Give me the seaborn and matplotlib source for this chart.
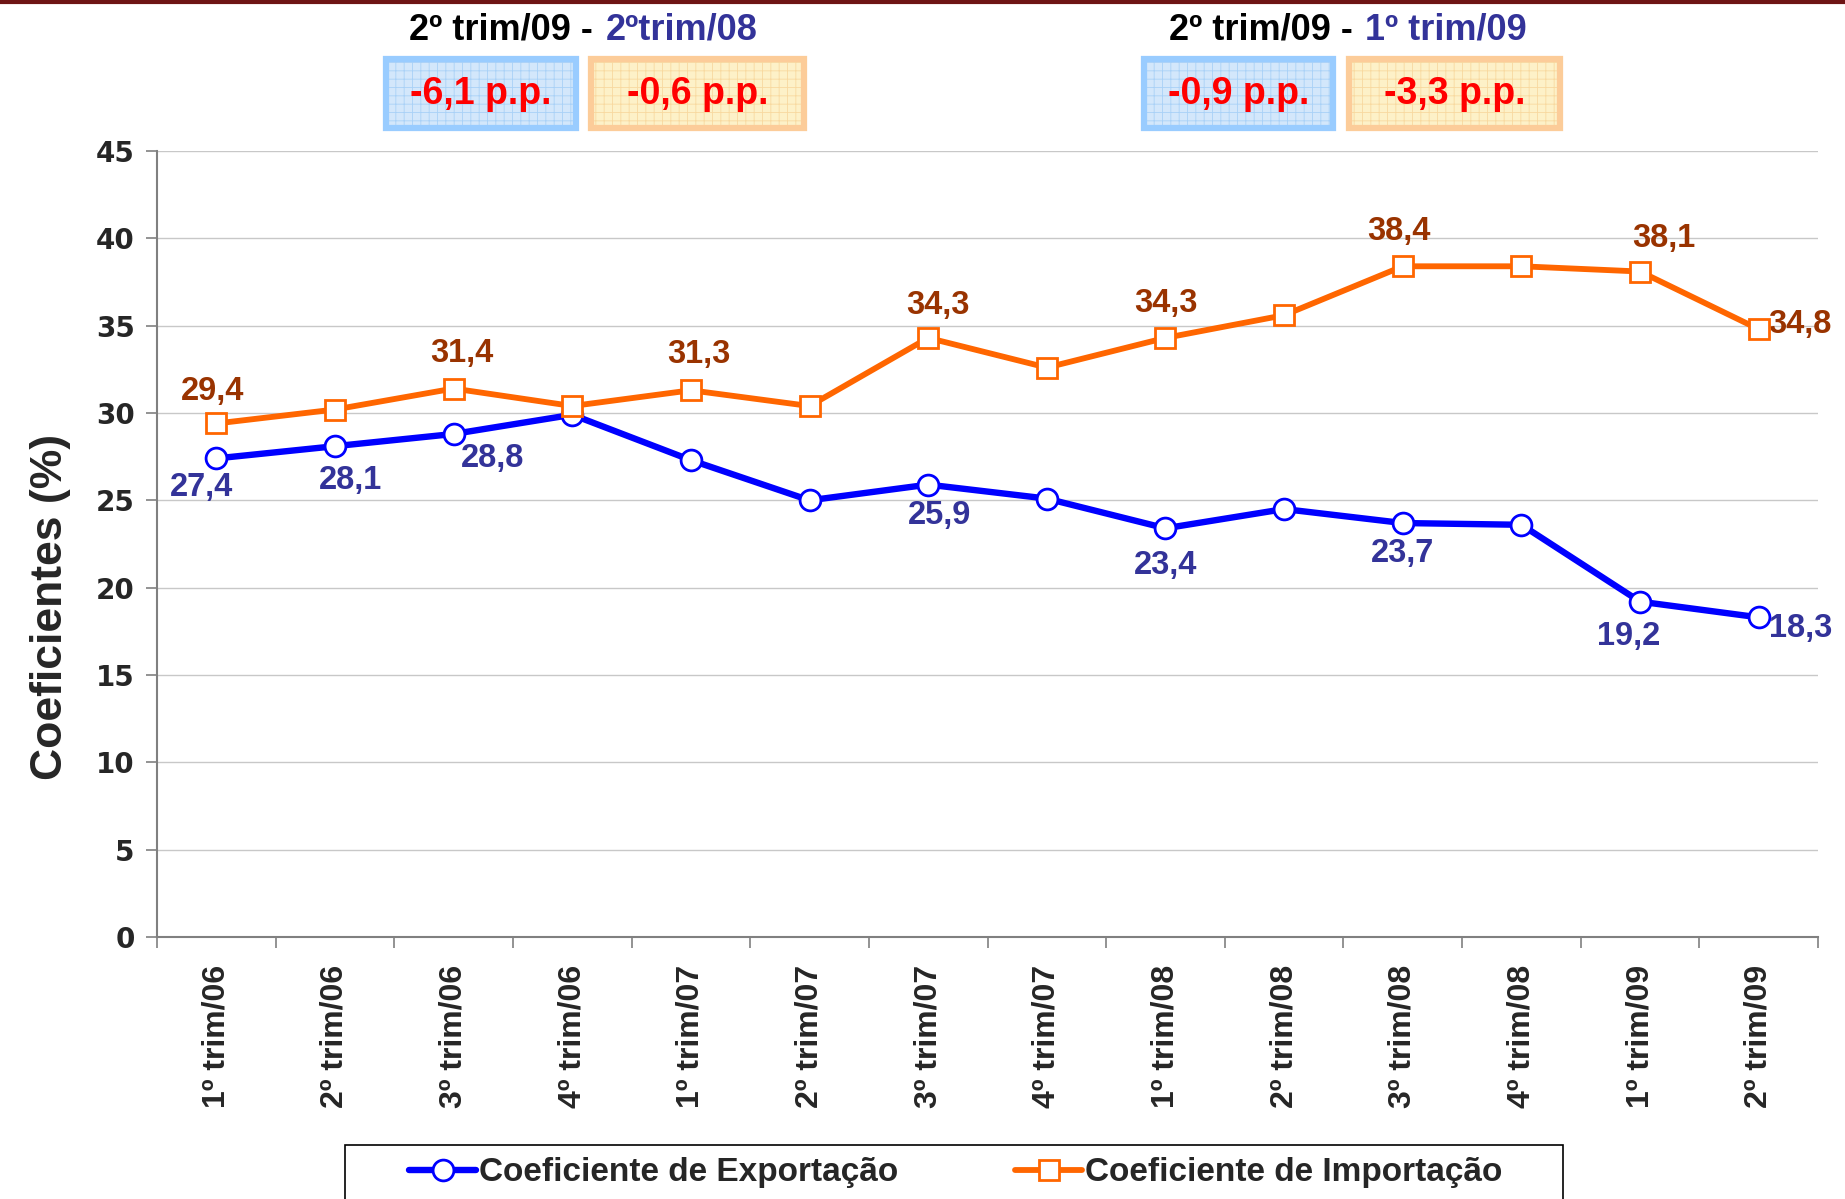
import pandas as pd
import matplotlib.pyplot as plt
import seaborn as sns
from matplotlib.patches import Rectangle
from matplotlib.lines import Line2D

# Data
quarters = ['1º trim/06', '2º trim/06', '3º trim/06', '4º trim/06',
            '1º trim/07', '2º trim/07', '3º trim/07', '4º trim/07',
            '1º trim/08', '2º trim/08', '3º trim/08', '4º trim/08',
            '1º trim/09', '2º trim/09']
exportacao = [27.4, 28.1, 28.8, 29.9, 27.3, 25.0, 25.9, 25.1, 23.4, 24.5, 23.7, 23.6, 19.2, 18.3]
importacao = [29.4, 30.2, 31.4, 30.4, 31.3, 30.4, 34.3, 32.6, 34.3, 35.6, 38.4, 38.4, 38.1, 34.8]
export_labeled = [0, 1, 2, 6, 8, 10, 12, 13]
import_labeled = [0, 2, 4, 6, 8, 10, 12, 13]
series_names = ['Coeficiente de Exportação', 'Coeficiente de Importação']
diff_titles = [('2º trim/09 -', '2ºtrim/08'), ('2º trim/09 -', '1º trim/09')]
diff_values = [('-6,1 p.p.', '-0,6 p.p.'), ('-0,9 p.p.', '-3,3 p.p.')]

# label offsets in points
export_offsets = [(-11, -21), (11, -25), (28, -18), (8, -22), (0, -27), (0, -22), (-8, -25), (30, -8)]
import_offsets = [(-3, 23), (6, 25), (6, 26), (7, 23), (0, 25), (-3, 25), (17, 24), (30, 3)]

sns.set_style('white')
plt.rcParams['font.family'] = ['Liberation Sans', 'DejaVu Sans']
plt.rcParams['hatch.linewidth'] = 0.6

W, H = 1845, 1199
fig = plt.figure(figsize=(W / 100, H / 100), dpi=100)
ax = fig.add_axes([157 / W, 1 - 937 / H, (1818 - 157) / W, (937 - 151) / H])

df = pd.DataFrame({'trimestre': quarters, 'exp': exportacao, 'imp': importacao})

sns.lineplot(data=df, x='trimestre', y='exp', ax=ax, color='#0000ff', lw=4.6,
             marker='o', markersize=15, markerfacecolor='white', markeredgecolor='#0000ff',
             markeredgewidth=2, label=series_names[0], zorder=3)
sns.lineplot(data=df, x='trimestre', y='imp', ax=ax, color='#ff6600', lw=4.2,
             marker='s', markersize=14, markerfacecolor='white', markeredgecolor='#ff6600',
             markeredgewidth=2, label=series_names[1], zorder=4)

for i, off in zip(export_labeled, export_offsets):
    ax.annotate(f'{exportacao[i]:.1f}'.replace('.', ','), (i, exportacao[i]), xytext=off,
                textcoords='offset points', ha='center', va='center',
                fontsize=23.5, fontweight='bold', color='#333399')
for i, off in zip(import_labeled, import_offsets):
    ax.annotate(f'{importacao[i]:.1f}'.replace('.', ','), (i, importacao[i]), xytext=off,
                textcoords='offset points', ha='center', va='center',
                fontsize=23.5, fontweight='bold', color='#993300')

ax.set_ylim(0, 45)
ax.set_yticks(range(0, 46, 5))
ax.set_xlim(-0.5, len(quarters) - 0.5)
ax.yaxis.grid(True, color='#c8c8c8', lw=1)
ax.set_axisbelow(True)
for s in ['top', 'right']:
    ax.spines[s].set_visible(False)
for s in ['left', 'bottom']:
    ax.spines[s].set_color('#808080')
    ax.spines[s].set_linewidth(1.5)

ax.set_xticks([i + 0.5 for i in range(-1, len(quarters))], minor=True)
ax.tick_params(axis='x', which='minor', length=8, width=1.2, color='#808080', direction='out', bottom=True)
ax.tick_params(axis='x', which='major', length=0, pad=20)
ax.tick_params(axis='y', length=8, width=1.2, color='#808080', direction='out', left=True, pad=8)
ax.set_xticks(range(len(quarters)))
ax.set_xticklabels(quarters, rotation=90, fontsize=23, fontweight='bold')
for lab in ax.get_yticklabels():
    lab.set_fontsize(20)
    lab.set_fontweight('heavy')
    lab.set_family('DejaVu Sans')
ax.set_xlabel('')
ax.set_ylabel('Coeficientes (%)', fontsize=32, fontweight='bold', labelpad=18)
ax.yaxis.label.set_y(0.42)

# legend at bottom (frame drawn separately, runs past the bottom edge)
handles, labels = ax.get_legend_handles_labels()
ax.get_legend().remove()
fig.legend(handles, labels, loc='center', bbox_to_anchor=(956 / W, 1 - 1173 / H),
           ncol=2, frameon=False, handlelength=2.0, columnspacing=3.5,
           handletextpad=0.1, borderpad=0, borderaxespad=0,
           prop={'weight': 'bold', 'size': 24})
fig.add_artist(Rectangle((345 / W, 1 - 1215 / H), (1563 - 345) / W, (1215 - 1145) / H,
                         facecolor='none', edgecolor='black', lw=1.2, transform=fig.transFigure))

# top dark line
fig.add_artist(Line2D([0, 1], [1 - 1.5 / H, 1 - 1.5 / H], color='#6e1414', lw=3, transform=fig.transFigure))

# comparison boxes
boxes = [[(383, 579), (588, 807)], [(1141, 1336), (1346, 1563)]]
title_split = [(593, 606), (1353, 1365)]
styles = [('#d3e7fb', '#a9d1f7', '#99ccff'), ('#fdf1c8', '#f8d9a0', '#fccc99')]
for g in range(2):
    xb, xa = title_split[g]
    fig.text(xb / W, 1 - 30 / H, diff_titles[g][0], ha='right', va='center',
             fontsize=26, fontweight='bold', color='black')
    fig.text(xa / W, 1 - 30 / H, diff_titles[g][1], ha='left', va='center',
             fontsize=26, fontweight='bold', color='#333399')
    for k in range(2):
        x0, x1 = boxes[g][k]
        y0, y1 = 56, 131
        face, hatch_c, edge = styles[k]
        fig.add_artist(Rectangle((x0 / W, 1 - y1 / H), (x1 - x0) / W, (y1 - y0) / H,
                                 facecolor=face, edgecolor=hatch_c, hatch='++', lw=0,
                                 transform=fig.transFigure))
        fig.add_artist(Rectangle(((x0 + 3) / W, 1 - (y1 - 3) / H), (x1 - x0 - 6) / W, (y1 - y0 - 6) / H,
                                 facecolor='none', edgecolor=edge, lw=4.5,
                                 transform=fig.transFigure))
        fig.text((x0 + x1) / 2 / W, 1 - (y0 + y1) / 2 / H, diff_values[g][k], ha='center', va='center',
                 fontsize=27, fontweight='bold', color='#ff0000')

fig.savefig('out.png', dpi=100)
